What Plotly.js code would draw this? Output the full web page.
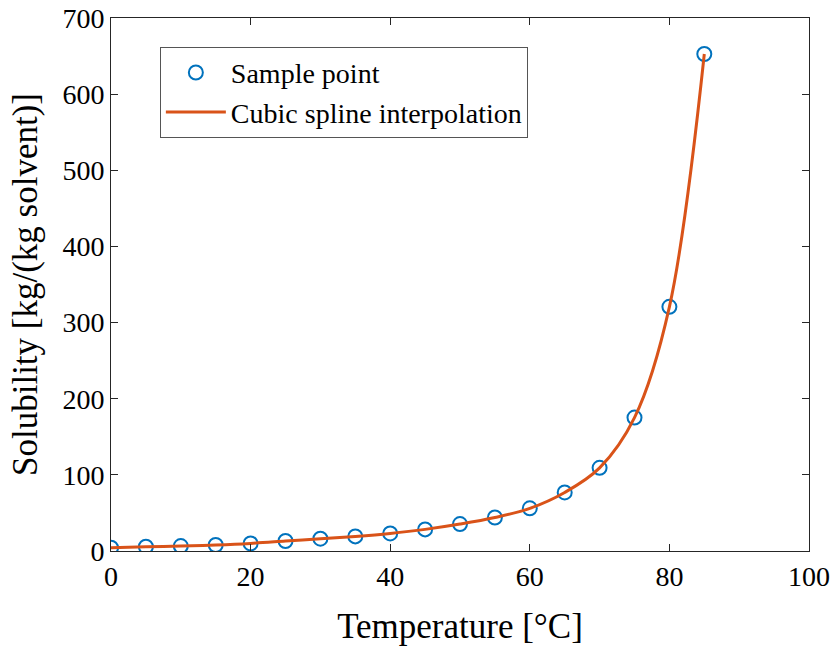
<!DOCTYPE html>
<html>
<head>
<meta charset="utf-8">
<script src="https://cdn.plot.ly/plotly-3.0.1.min.js"></script>
<style>html,body{margin:0;padding:0;background:#fff;}#chart{width:835px;height:648px;}</style>
</head>
<body>
<div id="chart"></div>
<script>
// Sample temperatures [°C]
const temperature = [0, 5, 10, 15, 20, 25, 30, 35, 40, 45, 50, 55, 60, 65, 70, 75, 80, 85];
// Solubility [kg/(kg solvent)]
const solubility = [4.3, 5.6, 6.5, 7.9, 10.0, 13.1, 16.2, 19.2, 23.1, 28.4, 35.4, 44.0, 56.0, 76.9, 109.2, 175.2, 320.7, 652.7];

const xTicks = [0, 20, 40, 60, 80, 100];
const yTicks = [0, 100, 200, 300, 400, 500, 600, 700];

const fontFam = '"Liberation Serif", "Times New Roman", serif';
const axisColor = '#262626';

const traces = [
  {
    x: temperature, y: solubility, type: 'scatter', mode: 'markers',
    name: 'Sample point',
    marker: {symbol: 'circle-open', size: 14, color: '#0072BD', line: {width: 2, color: '#0072BD'}}
  },
  {
    x: temperature, y: solubility, type: 'scatter', mode: 'lines',
    name: 'Cubic spline interpolation',
    line: {shape: 'spline', smoothing: 1, color: '#D95319', width: 3}
  }
];

const axisCommon = {
  showline: true, linecolor: axisColor, linewidth: 1, mirror: 'ticks',
  ticks: 'inside', ticklen: 7, tickcolor: axisColor, tickwidth: 1,
  showgrid: false, zeroline: false,
  tickfont: {family: fontFam, size: 28, color: '#000'}
};

const layout = {
  width: 835, height: 648,
  margin: {l: 111, r: 26, t: 18, b: 97},
  paper_bgcolor: '#fff', plot_bgcolor: '#fff',
  font: {family: fontFam, color: '#000'},
  xaxis: Object.assign({}, axisCommon, {
    range: [0, 100], tickvals: xTicks, ticktext: xTicks.map(String),
    title: {text: 'Temperature [°C]', font: {family: fontFam, size: 35, color: '#000'}, standoff: 22}
  }),
  yaxis: Object.assign({}, axisCommon, {
    range: [0, 700], tickvals: yTicks, ticktext: yTicks.map(String),
    title: {text: 'Solubility [kg/(kg solvent)]', font: {family: fontFam, size: 35, color: '#000'}, standoff: 14}
  }),
  showlegend: true,
  legend: {
    x: 0.07, y: 0.946, xanchor: 'left', yanchor: 'top',
    bgcolor: '#fff', bordercolor: '#555', borderwidth: 1,
    font: {family: fontFam, size: 28, color: '#000'},
    tracegroupgap: 0, itemwidth: 60
  }
};

Plotly.newPlot('chart', traces, layout, {displayModeBar: false, staticPlot: true});
</script>
</body>
</html>
